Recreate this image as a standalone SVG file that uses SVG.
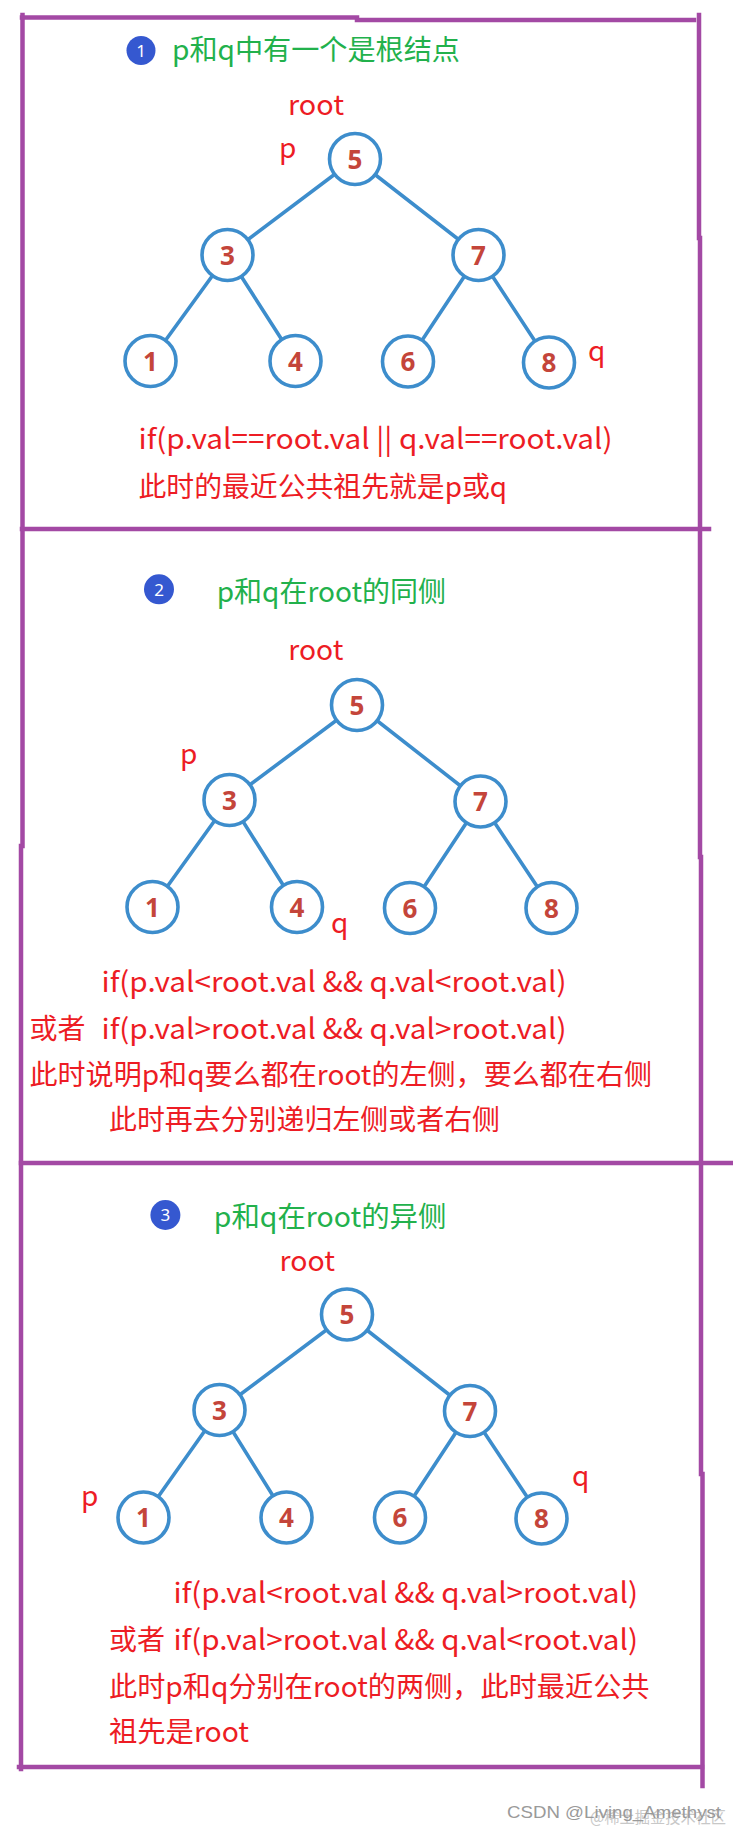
<svg xmlns="http://www.w3.org/2000/svg" width="733" height="1832" viewBox="0 0 733 1832">
<style>
.frame{stroke:#a349a4;stroke-width:4.5;fill:none;stroke-linecap:square}
.edge{stroke:#3d8dcc;stroke-width:3.6;stroke-linecap:round}
.node circle{fill:#fff;stroke:#3d8dcc;stroke-width:3.6}
.node text{font-family:"Open Sans","DejaVu Sans",sans-serif;font-weight:bold;font-size:26px;fill:#c4453a;text-anchor:middle}
.badge circle{fill:#3558d0}
.badge text{font-family:"Noto Sans","DejaVu Sans",sans-serif;font-size:17px;fill:#fff;text-anchor:middle}
.title{font-family:"Noto Sans CJK SC","Noto Sans",sans-serif;font-size:28px;fill:#22b14c}
.red{font-family:"Noto Sans CJK SC","Noto Sans",sans-serif;font-size:28px;fill:#ed1c24}
.wm1{font-family:"Liberation Sans",Arial,sans-serif;font-size:17px;fill:#9a9a9a}
.wm2{font-family:"Noto Sans CJK SC",sans-serif;font-size:16px;fill:#c8c8c8}
</style>

<g id="frame">
<line class="frame" x1="22" y1="17.5" x2="357" y2="17.5"/>
<line class="frame" x1="357" y1="20" x2="694" y2="20"/>
<line class="frame" x1="22.5" y1="15" x2="22.5" y2="846"/>
<line class="frame" x1="21" y1="846" x2="21" y2="1769"/>
<line class="frame" x1="699" y1="15" x2="699" y2="238"/>
<line class="frame" x1="700" y1="238" x2="700" y2="857"/>
<line class="frame" x1="701" y1="857" x2="701" y2="1474"/>
<line class="frame" x1="702.5" y1="1474" x2="702.5" y2="1786"/>
<line class="frame" x1="22" y1="529" x2="709" y2="529"/>
<line class="frame" x1="21" y1="1163" x2="731" y2="1163"/>
<line class="frame" x1="19" y1="1767" x2="702" y2="1767"/>
</g>

<g id="connectors">
<line class="edge" x1="355" y1="159" x2="227.5" y2="255"/>
<line class="edge" x1="355" y1="159" x2="478.5" y2="255"/>
<line class="edge" x1="227.5" y1="255" x2="150.5" y2="361"/>
<line class="edge" x1="227.5" y1="255" x2="295.5" y2="361"/>
<line class="edge" x1="478.5" y1="255" x2="408" y2="361.5"/>
<line class="edge" x1="478.5" y1="255" x2="549" y2="362.5"/>

<line class="edge" x1="357" y1="705" x2="229.5" y2="800"/>
<line class="edge" x1="357" y1="705" x2="480.5" y2="801.5"/>
<line class="edge" x1="229.5" y1="800" x2="152.5" y2="907"/>
<line class="edge" x1="229.5" y1="800" x2="297" y2="907"/>
<line class="edge" x1="480.5" y1="801.5" x2="410" y2="908"/>
<line class="edge" x1="480.5" y1="801.5" x2="551.5" y2="908"/>

<line class="edge" x1="347" y1="1314.5" x2="219.5" y2="1410"/>
<line class="edge" x1="347" y1="1314.5" x2="470" y2="1411"/>
<line class="edge" x1="219.5" y1="1410" x2="143.5" y2="1517.5"/>
<line class="edge" x1="219.5" y1="1410" x2="286.5" y2="1517.5"/>
<line class="edge" x1="470" y1="1411" x2="400" y2="1517.5"/>
<line class="edge" x1="470" y1="1411" x2="541.5" y2="1518.5"/>
</g>

<!-- Section 1 -->
<g id="badge1" class="badge"><circle cx="141" cy="50.5" r="14.5"/><text x="141" y="56.5">1</text></g>
<text id="title1" class="title" x="172" y="60" textLength="288" lengthAdjust="spacingAndGlyphs">p和q中有一个是根结点</text>
<text id="root1" class="red" x="288" y="115" textLength="56" lengthAdjust="spacingAndGlyphs">root</text>
<text id="p1" class="red" x="279" y="158">p</text>
<text id="q1" class="red" x="588" y="361">q</text>
<g id="t1n5" class="node"><circle cx="355" cy="159" r="25.5"/><text x="355" y="168.5">5</text></g>
<g id="t1n3" class="node"><circle cx="227.5" cy="255" r="25.5"/><text x="227.5" y="264.5">3</text></g>
<g id="t1n7" class="node"><circle cx="478.5" cy="255" r="25.5"/><text x="478.5" y="264.5">7</text></g>
<g id="t1n1" class="node"><circle cx="150.5" cy="361" r="25.5"/><text x="150.5" y="370.5">1</text></g>
<g id="t1n4" class="node"><circle cx="295.5" cy="361" r="25.5"/><text x="295.5" y="370.5">4</text></g>
<g id="t1n6" class="node"><circle cx="408" cy="361.5" r="25.5"/><text x="408" y="371">6</text></g>
<g id="t1n8" class="node"><circle cx="549" cy="362.5" r="25.5"/><text x="549" y="372">8</text></g>
<text class="red" x="138.5" y="449" textLength="474" lengthAdjust="spacingAndGlyphs">if(p.val==root.val || q.val==root.val)</text>
<text class="red" x="138.5" y="497" textLength="368.5" lengthAdjust="spacingAndGlyphs">此时的最近公共祖先就是p或q</text>

<!-- Section 2 -->
<g id="badge2" class="badge"><circle cx="159" cy="589.3" r="15"/><text x="159" y="595.5">2</text></g>
<text id="title2" class="title" x="216.7" y="601.7" textLength="229.3" lengthAdjust="spacingAndGlyphs">p和q在root的同侧</text>
<text id="root2" class="red" x="288.3" y="660" textLength="55" lengthAdjust="spacingAndGlyphs">root</text>
<text id="p2" class="red" x="180" y="764">p</text>
<text id="q2" class="red" x="331" y="933">q</text>
<g id="t2n5" class="node"><circle cx="357" cy="705" r="25.5"/><text x="357" y="714.5">5</text></g>
<g id="t2n3" class="node"><circle cx="229.5" cy="800" r="25.5"/><text x="229.5" y="809.5">3</text></g>
<g id="t2n7" class="node"><circle cx="480.5" cy="801.5" r="25.5"/><text x="480.5" y="811">7</text></g>
<g id="t2n1" class="node"><circle cx="152.5" cy="907" r="25.5"/><text x="152.5" y="916.5">1</text></g>
<g id="t2n4" class="node"><circle cx="297" cy="907" r="25.5"/><text x="297" y="916.5">4</text></g>
<g id="t2n6" class="node"><circle cx="410" cy="908" r="25.5"/><text x="410" y="917.5">6</text></g>
<g id="t2n8" class="node"><circle cx="551.5" cy="908" r="25.5"/><text x="551.5" y="917.5">8</text></g>
<text class="red" x="101.5" y="991.5" textLength="465" lengthAdjust="spacingAndGlyphs">if(p.val&lt;root.val &amp;&amp; q.val&lt;root.val)</text>
<text class="red" x="29.5" y="1038.5" textLength="56" lengthAdjust="spacingAndGlyphs">或者</text>
<text class="red" x="101.5" y="1038.5" textLength="465" lengthAdjust="spacingAndGlyphs">if(p.val&gt;root.val &amp;&amp; q.val&gt;root.val)</text>
<text class="red" x="29.5" y="1085" textLength="622.5" lengthAdjust="spacingAndGlyphs">此时说明p和q要么都在root的左侧，要么都在右侧</text>
<text class="red" x="109" y="1130" textLength="391" lengthAdjust="spacingAndGlyphs">此时再去分别递归左侧或者右侧</text>

<!-- Section 3 -->
<g id="badge3" class="badge"><circle cx="165.4" cy="1215" r="15"/><text x="165.4" y="1221">3</text></g>
<text id="title3" class="title" x="213.8" y="1227" textLength="232.6" lengthAdjust="spacingAndGlyphs">p和q在root的异侧</text>
<text id="root3" class="red" x="279.6" y="1271" textLength="55.4" lengthAdjust="spacingAndGlyphs">root</text>
<text id="p3" class="red" x="81" y="1506">p</text>
<text id="q3" class="red" x="572" y="1486">q</text>
<g id="t3n5" class="node"><circle cx="347" cy="1314.5" r="25.5"/><text x="347" y="1324">5</text></g>
<g id="t3n3" class="node"><circle cx="219.5" cy="1410" r="25.5"/><text x="219.5" y="1419.5">3</text></g>
<g id="t3n7" class="node"><circle cx="470" cy="1411" r="25.5"/><text x="470" y="1420.5">7</text></g>
<g id="t3n1" class="node"><circle cx="143.5" cy="1517.5" r="25.5"/><text x="143.5" y="1527">1</text></g>
<g id="t3n4" class="node"><circle cx="286.5" cy="1517.5" r="25.5"/><text x="286.5" y="1527">4</text></g>
<g id="t3n6" class="node"><circle cx="400" cy="1517.5" r="25.5"/><text x="400" y="1527">6</text></g>
<g id="t3n8" class="node"><circle cx="541.5" cy="1518.5" r="25.5"/><text x="541.5" y="1528">8</text></g>
<text class="red" x="173.4" y="1603" textLength="464.6" lengthAdjust="spacingAndGlyphs">if(p.val&lt;root.val &amp;&amp; q.val&gt;root.val)</text>
<text class="red" x="109" y="1650" textLength="56" lengthAdjust="spacingAndGlyphs">或者</text>
<text class="red" x="173.4" y="1650" textLength="464.6" lengthAdjust="spacingAndGlyphs">if(p.val&gt;root.val &amp;&amp; q.val&lt;root.val)</text>
<text class="red" x="109" y="1697" textLength="540.5" lengthAdjust="spacingAndGlyphs">此时p和q分别在root的两侧，此时最近公共</text>
<text class="red" x="109" y="1742" textLength="140" lengthAdjust="spacingAndGlyphs">祖先是root</text>

<!-- watermark -->
<text class="wm2" x="590" y="1823" textLength="136" lengthAdjust="spacingAndGlyphs">@稀土掘金技术社区</text>
<text class="wm1" x="507" y="1818" textLength="214" lengthAdjust="spacingAndGlyphs">CSDN @Living_Amethyst</text>
</svg>
